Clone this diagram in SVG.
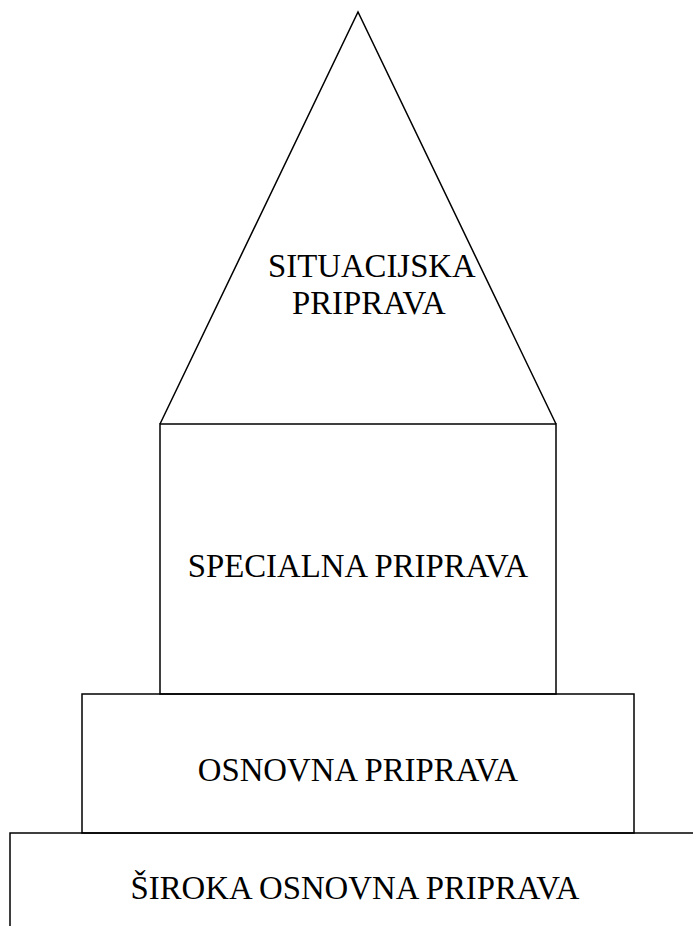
<svg xmlns="http://www.w3.org/2000/svg" width="693" height="926" viewBox="0 0 693 926">
<style>
.s{fill:none;stroke:#000;stroke-width:1.5}
.t{font-family:"Liberation Serif","Times New Roman",serif;font-size:32.8px;fill:#000}
</style>
<rect width="693" height="926" fill="#fff"/>
<g id="situacijska">
<path class="s" d="M160,424 L358,12 L556,424"/>
<text class="t" x="268" y="277">SITUACIJSKA</text>
<text class="t" x="292" y="314">PRIPRAVA</text>
</g>
<g id="specialna">
<rect class="s" x="160" y="424" width="396" height="270"/>
<text class="t" x="358" y="577" text-anchor="middle">SPECIALNA PRIPRAVA</text>
</g>
<g id="osnovna">
<rect class="s" x="82" y="694" width="552" height="139"/>
<text class="t" x="358" y="781" text-anchor="middle">OSNOVNA PRIPRAVA</text>
</g>
<g id="siroka">
<path class="s" d="M10,930 L10,833 L700,833"/>
<text class="t" x="355" y="899" text-anchor="middle">ŠIROKA OSNOVNA PRIPRAVA</text>
</g>
</svg>
